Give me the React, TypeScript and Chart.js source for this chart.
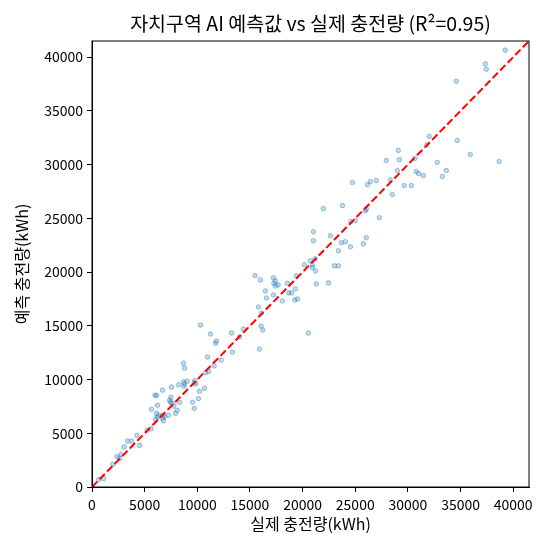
import { useEffect, useRef } from 'react';
import Chart from 'chart.js/auto';

// 실제 충전량 (x) / AI 예측 충전량 (y), kWh
const actualKwh = [
  39240, 37350, 37440, 34590, 32030, 31790, 34690, 35920, 38670, 29090,
  27950, 29190, 30650, 32790, 29000, 30790, 31010, 31460, 33650, 33270,
  24730, 26170, 26430, 27000, 28320, 29660, 30320, 28520, 21970, 23780,
  25960, 26050, 27290, 24570, 25010, 21030, 21030, 22640, 23680, 24060,
  24540, 26050, 25770, 23400, 20170, 20740, 21190, 20930, 20930, 21220,
  23020, 23400, 21310, 22450, 20550, 15490, 16000, 17230, 17420, 17270,
  17680, 17420, 18560, 19410, 16470, 17230, 18690, 18940, 19320, 19260,
  19510, 18080, 16570, 15810, 16090, 16060, 16220, 14380, 14000, 13250,
  10300, 11250, 11820, 11730, 13330, 15900, 10970, 12270, 11600, 11080,
  10800, 8690, 8790, 8220, 8690, 8790, 8730, 9040, 9770, 9850,
  9710, 7550, 6700, 5980, 6130, 10680, 10210, 9550, 10110, 7500,
  7360, 7460, 7590, 8310, 7780, 6220, 5650, 9710, 8090, 7930,
  6130, 6320, 6220, 6030, 6700, 6700, 6790, 7270, 6890, 5630,
  5250, 4270, 4520, 3760, 3380, 3060, 2750, 2370, 2620, 1990,
  1100, 630,
];

const predictedKwh = [
  40650, 39370, 38880, 37760, 32620, 31840, 32250, 30940, 30290, 31320,
  30380, 30460, 30570, 30200, 29450, 29360, 29170, 28980, 29460, 28890,
  28330, 28140, 28420, 28520, 28590, 28050, 28050, 27210, 25900, 26180,
  25710, 25860, 25060, 24690, 24780, 23750, 22910, 23380, 22730, 22820,
  22350, 23190, 22630, 21980, 20670, 21050, 21230, 20670, 20420, 20110,
  20580, 20580, 18900, 18990, 14320, 19670, 19270, 19460, 19180, 18950,
  18800, 18710, 18950, 19650, 18240, 17870, 18060, 18060, 18430, 17400,
  17500, 17310, 17590, 16750, 16190, 14980, 14600, 14700, 13950, 14320,
  15070, 14230, 13580, 13370, 12550, 12830, 12090, 11810, 11270, 10760,
  10640, 11520, 11060, 9510, 9780, 9590, 9370, 9840, 9900, 9590,
  9710, 9290, 9010, 8530, 8530, 9190, 8910, 7880, 8220, 8350,
  8070, 7910, 7790, 7880, 7530, 7600, 7230, 7320, 7130, 6850,
  6850, 6670, 6480, 6290, 6670, 6390, 6160, 6670, 6570, 5420,
  5270, 4800, 3870, 4270, 4270, 3730, 3030, 2840, 2650, 2120,
  780, 690,
];

const tickValues = [0, 5000, 10000, 15000, 20000, 25000, 30000, 35000, 40000];
const axisLimit = 41500;
const perfectLine = [0, axisLimit];

const TITLE = '자치구역 AI 예측값 vs 실제 충전량 (R²=0.95)';
const FONT = "'Noto Sans CJK KR', 'Noto Sans', sans-serif";

const frameAndTitle = {
  id: 'frameAndTitle',
  afterDraw(chart: Chart) {
    const { ctx, chartArea } = chart;
    const { left, top, right, bottom } = chartArea;
    ctx.save();
    ctx.strokeStyle = '#000';
    ctx.lineWidth = 1;
    ctx.strokeRect(left, top, right - left, bottom - top);
    ctx.fillStyle = '#000';
    ctx.font = `19.5px ${FONT}`;
    ctx.textAlign = 'center';
    ctx.textBaseline = 'middle';
    ctx.fillText(TITLE, (left + right) / 2, 24);
    ctx.restore();
  },
};

const axis = (label: string, fit: (s: any) => void, titlePad: any) => ({
  type: 'linear' as const,
  min: 0,
  max: axisLimit,
  afterFit: fit,
  afterBuildTicks: (s: any) => {
    s.ticks = tickValues.map((value) => ({ value }));
  },
  ticks: {
    color: '#000',
    padding: 4,
    maxRotation: 0,
    autoSkip: false,
    font: { family: FONT, size: 14 },
    callback: (v: any) => String(v),
  },
  grid: {
    drawOnChartArea: false,
    drawTicks: true,
    tickLength: 5,
    color: '#000',
    tickColor: '#000',
  },
  border: { color: '#000', width: 1 },
  title: {
    display: true,
    text: label,
    color: '#000',
    font: { family: FONT, size: 16 },
    padding: titlePad,
  },
});

const App = () => {
  const canvasRef = useRef<HTMLCanvasElement>(null);
  const chartRef = useRef<Chart | null>(null);

  useEffect(() => {
    const ctx = canvasRef.current?.getContext('2d');
    if (!ctx) return;

    chartRef.current?.destroy();
    chartRef.current = new Chart(ctx, {
      type: 'scatter',
      data: {
        datasets: [
          {
            type: 'line',
            data: perfectLine.map((v) => ({ x: v, y: v })),
            borderColor: '#ff0000',
            borderWidth: 2,
            borderDash: [7.5, 3.3],
            pointRadius: 0,
            fill: false,
            order: 0,
          },
          {
            data: actualKwh.map((x, i) => ({ x, y: predictedKwh[i] })),
            backgroundColor: 'rgba(31, 119, 180, 0.28)',
            borderColor: 'rgba(31, 119, 180, 0.38)',
            borderWidth: 1,
            pointRadius: 2.3,
            order: 1,
          },
        ],
      },
      options: {
        responsive: false,
        animation: false,
        layout: { padding: { top: 41, right: 21, left: 0, bottom: 0 } },
        plugins: {
          legend: { display: false },
          tooltip: { enabled: false },
        },
        scales: {
          x: axis(
            '실제 충전량(kWh)',
            (s) => {
              s.height = 63;
            },
            { top: 4, bottom: 16 }
          ),
          y: axis(
            '예측 충전량(kWh)',
            (s) => {
              s.width = 92;
            },
            { top: 12, bottom: 12 }
          ),
        },
      },
      plugins: [frameAndTitle],
    });

    return () => {
      chartRef.current?.destroy();
      chartRef.current = null;
    };
  }, []);

  return (
    <div style={{ position: 'absolute', left: 0, top: 0, width: 550, height: 550, background: '#fff' }}>
      <canvas ref={canvasRef} width={550} height={550} />
    </div>
  );
};

export default App;
